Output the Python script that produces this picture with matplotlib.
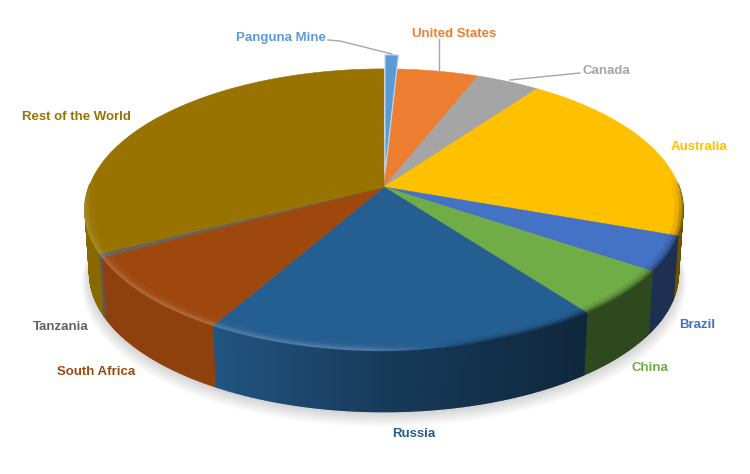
import numpy as np
import matplotlib
matplotlib.use("Agg")
import matplotlib.pyplot as plt
from matplotlib.colors import to_rgb

plt.rcParams['font.family'] = ['Liberation Sans', 'DejaVu Sans']

# share of each slice (percent)
categories = ["Panguna Mine", "United States", "Canada", "Australia", "Brazil",
              "China", "Russia", "South Africa", "Tanzania", "Rest of the World"]
shares = [0.84, 5.13, 4.0, 20.5, 4.0, 5.3, 18.5, 8.9, 0.4, 32.43]
colors = ["#5B9BD5", "#ED7D31", "#A5A5A5", "#FFC000", "#4472C4",
          "#70AD47", "#255E91", "#9E480E", "#636363", "#997300"]
label_pos = [(281, 38), (454, 34), (606, 71), (699, 147), (697, 325),
             (650, 368), (414, 434), (96, 372), (61, 327), (76, 117)]

# pie geometry in pixels
cx, cy = 384, 187
A, B, k = 295, 137, 0.16
depth = 64
low_scale = 0.985
lift = 14


def rim(theta, r=1.0):
    # theta in degrees, clockwise from the top, with some perspective
    t = np.radians(theta)
    u = r * np.sin(t)
    v = -r * np.cos(t)
    return A * u / (1 - k * v), B * v / (1 - k * v)


def mix(col, other, w):
    return tuple((1 - w) * a + w * b for a, b in zip(to_rgb(col), other))


fig = plt.figure(figsize=(7.5, 4.74), dpi=100)
ax = fig.add_axes([0, 0, 1, 1])
ax.set_xlim(0, 750)
ax.set_ylim(474, 0)
ax.axis("off")

edges = np.concatenate([[0], np.cumsum(shares)]) / sum(shares) * 360

# soft shadow under the pie
th = np.linspace(0, 360, 361)
dx, dy = rim(th)
for i in range(14):
    grow = 1 + 0.002 * (14 - i)
    ax.fill(cx + dx * low_scale * grow, cy + dy * low_scale * grow + depth + 1 + 0.7 * (14 - i),
            color="black", alpha=0.011, lw=0, zorder=1)

# side walls, back to front (the far side is hidden anyway)
strips = []
for i in range(1, len(shares)):
    n = max(int((edges[i + 1] - edges[i]) * 2), 1)
    t = np.linspace(edges[i], edges[i + 1], n + 1)
    for a, b in zip(t[:-1], t[1:]):
        order = -np.cos(np.radians((a + b) / 2))
        if order > -0.02:
            strips.append((order, i, a, b))
strips.sort()
for order, i, a, b in strips:
    t = np.array([a, b])
    x, y = rim(t)
    xs = np.concatenate([cx + x, (cx + x * low_scale)[::-1]])
    ys = np.concatenate([cy + y, (cy + y * low_scale + depth)[::-1]])
    f = np.interp(cx + x.mean(), [100, 213, 384, 587, 690], [0.9, 0.9, 0.62, 0.42, 0.42])
    c = mix(colors[i], (0, 0, 0), 1 - f)
    ax.fill(xs, ys, color=c, lw=1.0, zorder=2)

# top faces
for i in range(len(shares)):
    t = np.linspace(edges[i], edges[i + 1], max(int(edges[i + 1] - edges[i]) * 2, 4))
    x, y = rim(t)
    xs = np.concatenate([[cx], cx + x])
    ys = np.concatenate([[cy], cy + y])
    if i == 0:
        # this slice is pulled out of the pie
        ax.fill(xs + 1, ys - lift, facecolor=colors[i], edgecolor="#BBD5EE", lw=0.8, zorder=5)
    else:
        ax.fill(xs, ys, color=colors[i], lw=0.4, zorder=3)

# bevel along the front rim
for i in range(1, len(shares)):
    n = max(int((edges[i + 1] - edges[i]) * 2), 1)
    t = np.linspace(edges[i], edges[i + 1], n + 1)
    for a, b in zip(t[:-1], t[1:]):
        for r, lw, al in [(1.0, 1.6, 0.85), (0.992, 2.2, 0.45), (0.98, 3.0, 0.15)]:
            x, y = rim(np.array([a, b]), r)
            front = np.clip(-np.cos(np.radians((a + b) / 2)) * 4 + 0.3, 0, 1)
            px = cx + x.mean()
            dark = np.clip((px - 370) / 130, 0, 1)
            c = mix(colors[i], (1, 1, 1), 0.22) if dark < 0.5 else mix(colors[i], (0, 0, 0), 0.55)
            ax.plot(cx + x, cy + y, color=c, lw=lw, alpha=al * front * abs(2 * dark - 1),
                    solid_capstyle="butt", zorder=4)

# labels
for name, col, (lx, ly) in zip(categories, colors, label_pos):
    ax.text(lx, ly, name, color=col, fontsize=9.5, fontweight="bold",
            ha="center", va="center", zorder=7)

# leader lines
ax.plot([328, 340, 392], [40, 41, 54], color="#A6A6A6", lw=1, zorder=6)
ax.plot([439, 439], [39, 70], color="#A6A6A6", lw=1, zorder=6)
ax.plot([580, 510], [73, 80], color="#A6A6A6", lw=1, zorder=6)

fig.savefig("out.png", dpi=100)
